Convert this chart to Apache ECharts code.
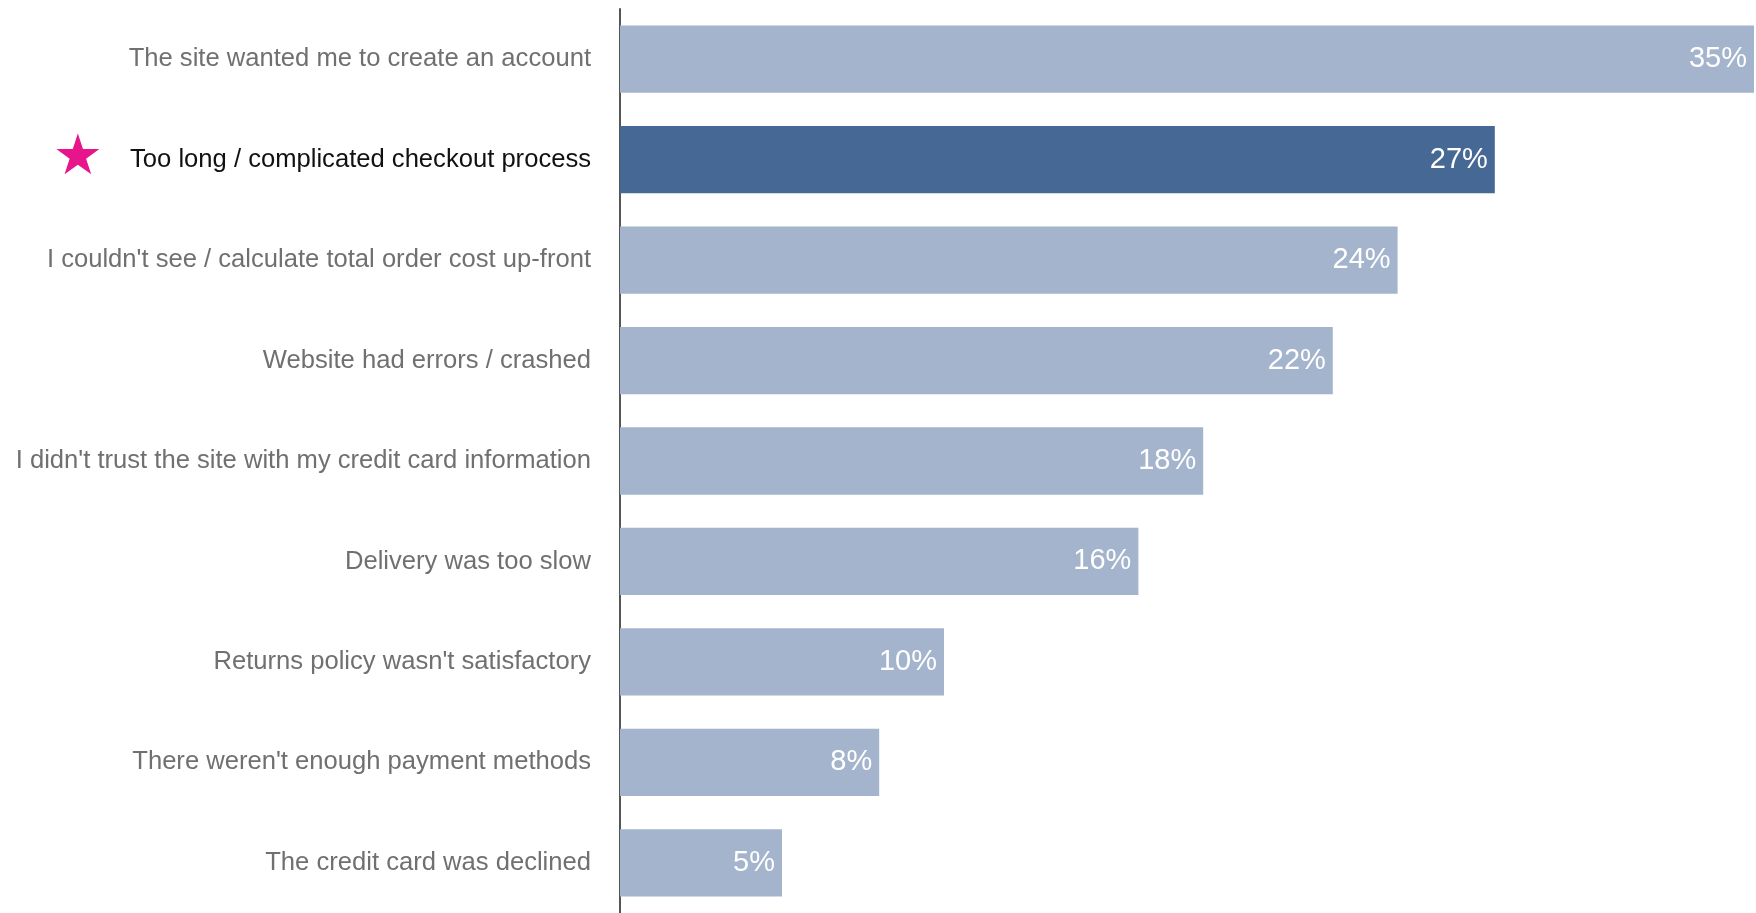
<!DOCTYPE html>
<html>
<head>
<meta charset="utf-8">
<script src="https://cdn.jsdelivr.net/npm/echarts@6/dist/echarts.min.js"></script>
<style>
html,body{margin:0;padding:0;background:#fff;}
#chart{width:1756px;height:913px;}
</style>
</head>
<body>
<div id="chart"></div>
<script>
const categories = [
  "The site wanted me to create an account",
  "Too long / complicated checkout process",
  "I couldn't see / calculate total order cost up-front",
  "Website had errors / crashed",
  "I didn't trust the site with my credit card information",
  "Delivery was too slow",
  "Returns policy wasn't satisfactory",
  "There weren't enough payment methods",
  "The credit card was declined"
];
const values = [35, 27, 24, 22, 18, 16, 10, 8, 5];
const highlighted = "Too long / complicated checkout process";

const FONT = "'Liberation Sans', Arial, Helvetica, sans-serif";
const chart = echarts.init(document.getElementById('chart'), null, {renderer: 'canvas'});

chart.setOption({
  backgroundColor: '#ffffff',
  animation: false,
  grid: {left: 620, right: 2, top: 9, bottom: 0, containLabel: false},
  xAxis: {
    type: 'value', min: 0, max: 35,
    show: false
  },
  yAxis: {
    type: 'category',
    data: categories,
    inverse: true,
    axisLine: {show: true, lineStyle: {color: '#555555', width: 2}},
    axisTick: {show: false},
    axisLabel: {
      margin: 29,
      fontFamily: FONT,
      fontSize: 25.6,
      color: '#707070',
      formatter: function (v) {
        if (v === highlighted) return '{star|★}{gap|}{hl|' + v + '}';
        return v;
      },
      rich: {
        star: {fontSize: 56, color: '#e8148c', fontFamily: 'DejaVu Sans', verticalAlign: 'middle'},
        gap: {width: 27},
        hl: {fontSize: 25.6, color: '#111111', fontFamily: FONT}
      }
    },
    splitLine: {show: false}
  },
  series: [{
    type: 'bar',
    data: values.map(function (v, i) {
      return categories[i] === highlighted
        ? {value: v, itemStyle: {color: '#466894'}}
        : v;
    }),
    barWidth: '67%',
    itemStyle: {color: '#a3b4cc'},
    label: {
      show: true,
      position: 'insideRight',
      distance: 7,
      color: '#ffffff',
      fontFamily: FONT,
      fontSize: 29,
      formatter: '{c}%'
    }
  }]
});
</script>
</body>
</html>
